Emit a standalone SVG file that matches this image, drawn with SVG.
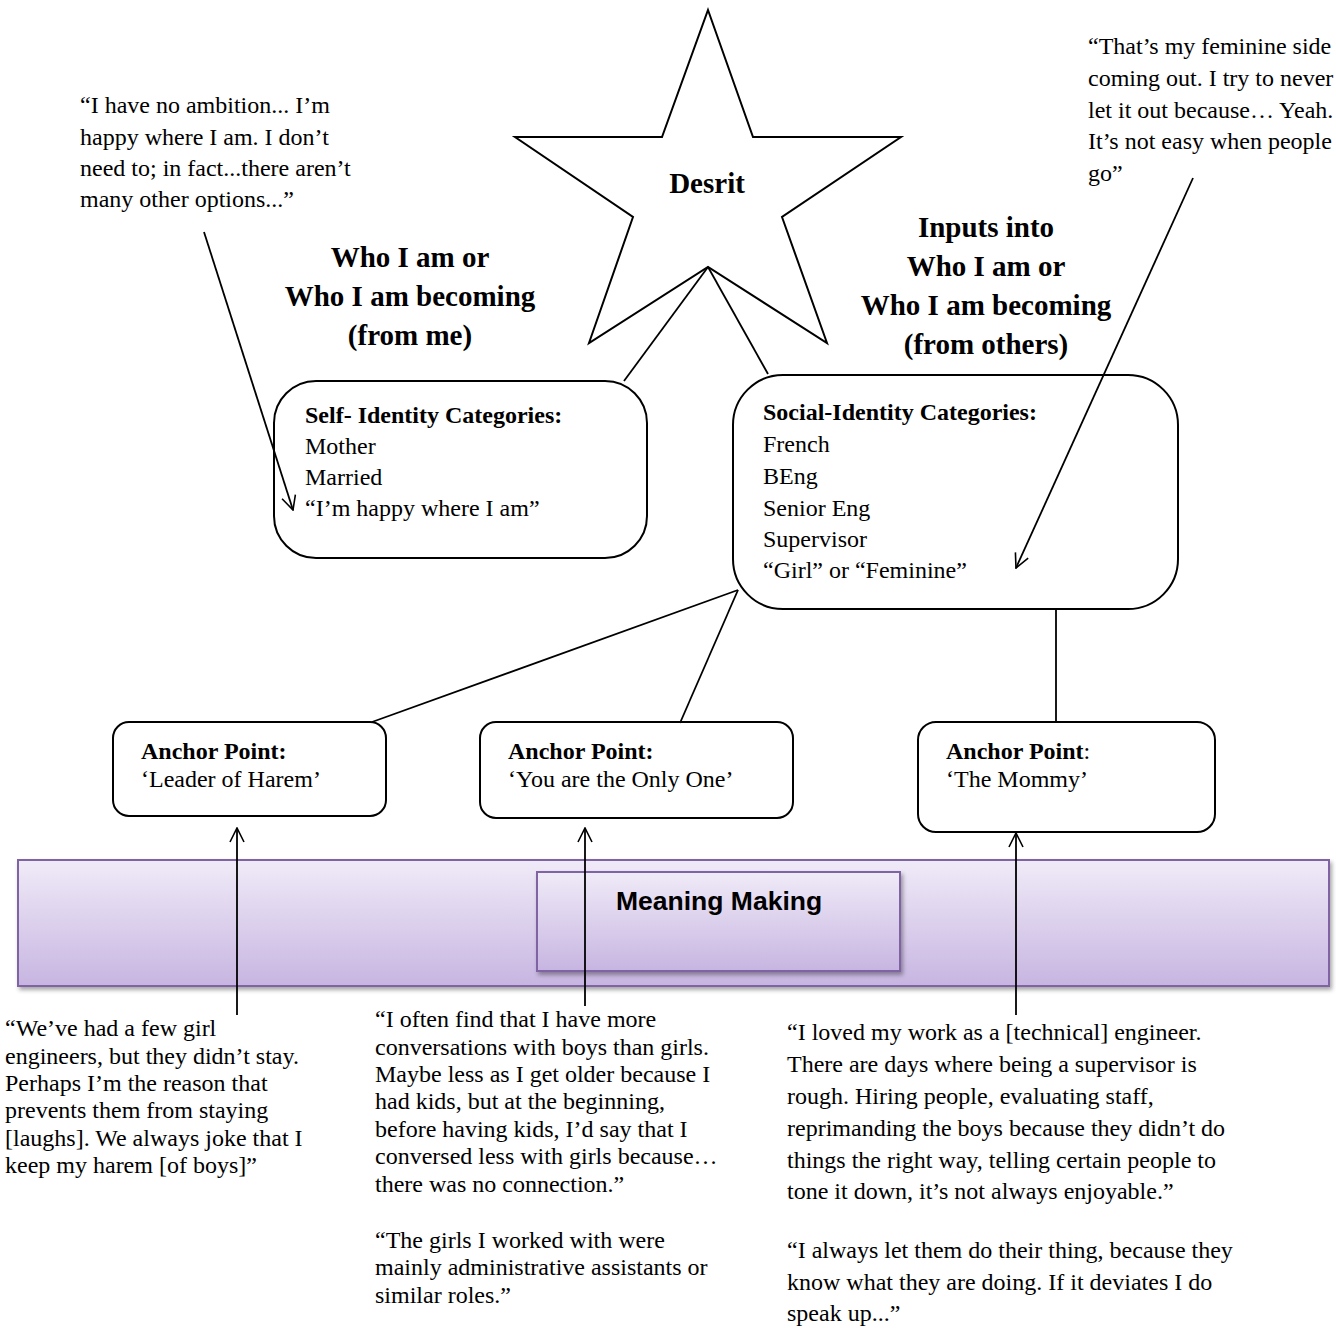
<svg xmlns="http://www.w3.org/2000/svg" width="1336" height="1328" viewBox="0 0 1336 1328">
  <defs>
    <style>
      .t { font-family: "Liberation Serif", "Times New Roman", serif; font-size: 24px; fill: #000; }
      .b { font-weight: bold; }
      .h { font-family: "Liberation Serif", "Times New Roman", serif; font-size: 29px; font-weight: bold; text-anchor: middle; fill: #000; }
      .box { fill: #fff; stroke: #000; stroke-width: 2; }
      .ln { stroke: #000; stroke-width: 1.8; fill: none; }
      .band { stroke: #8064a2; stroke-width: 2; fill: url(#lav); }
      .mm { font-family: "Liberation Sans", Arial, sans-serif; font-size: 26.5px; font-weight: bold; fill: #000; }
    </style>
    <linearGradient id="lav" x1="0" y1="0" x2="0" y2="1">
      <stop offset="0" stop-color="#f0ebf8"/>
      <stop offset="1" stop-color="#c7b5e1"/>
    </linearGradient>
    <filter id="shadow" x="-5%" y="-20%" width="110%" height="150%">
      <feDropShadow dx="2" dy="3" stdDeviation="2" flood-color="#000" flood-opacity="0.35"/>
    </filter>
    <marker id="open" viewBox="0 0 16 16" refX="15" refY="8" markerWidth="16" markerHeight="16" markerUnits="userSpaceOnUse" orient="auto">
      <path d="M1,1 L15,8 L1,15" fill="none" stroke="#000" stroke-width="1.6"/>
    </marker>
  </defs>

  <rect width="1336" height="1328" fill="#fff"/>

  <!-- meaning-making band -->
  <g id="meaning-making">
    <rect class="band" x="18" y="860" width="1311" height="126" filter="url(#shadow)"/>
    <rect class="band" x="537" y="872" width="363" height="99" filter="url(#shadow)"/>
    <text class="mm" x="616" y="910">Meaning Making</text>
  </g>

  <!-- star -->
  <g id="desrit">
    <polygon class="box" points="708,10 753,137 901,137 782,217 827,343 708,267 589,343 633,217 515,137 662,137"/>
    <text class="h" x="707" y="193">Desrit</text>
  </g>

  <g id="heading-self">
    <text class="h" x="410" y="267">Who I am or</text>
    <text class="h" x="410" y="306">Who I am becoming</text>
    <text class="h" x="410" y="345">(from me)</text>
  </g>

  <g id="heading-others">
    <text class="h" x="986" y="237">Inputs into</text>
    <text class="h" x="986" y="276">Who I am or</text>
    <text class="h" x="986" y="315">Who I am becoming</text>
    <text class="h" x="986" y="354">(from others)</text>
  </g>

  <g id="self-identity">
    <rect class="box" x="274" y="381" width="373" height="177" rx="42" ry="42"/>
    <text class="t b" x="305" y="423">Self- Identity Categories:</text>
    <text class="t" x="305" y="454">Mother</text>
    <text class="t" x="305" y="485">Married</text>
    <text class="t" x="305" y="516">“I’m happy where I am”</text>
  </g>

  <g id="social-identity">
    <rect class="box" x="733" y="375" width="445" height="234" rx="50" ry="50"/>
    <text class="t b" x="763" y="420">Social-Identity Categories:</text>
    <text class="t" x="763" y="452">French</text>
    <text class="t" x="763" y="484">BEng</text>
    <text class="t" x="763" y="516">Senior Eng</text>
    <text class="t" x="763" y="547">Supervisor</text>
    <text class="t" x="763" y="578">“Girl” or “Feminine”</text>
  </g>

  <g id="anchor-harem">
    <rect class="box" x="113" y="722" width="273" height="94" rx="16" ry="16"/>
    <text class="t b" x="141" y="759">Anchor Point:</text>
    <text class="t" x="141" y="787">‘Leader of Harem’</text>
  </g>

  <g id="anchor-only-one">
    <rect class="box" x="480" y="722" width="313" height="96" rx="16" ry="16"/>
    <text class="t b" x="508" y="759">Anchor Point:</text>
    <text class="t" x="508" y="787">‘You are the Only One’</text>
  </g>

  <g id="anchor-mommy">
    <rect class="box" x="918" y="722" width="297" height="110" rx="18" ry="18"/>
    <text class="t" x="946" y="759"><tspan class="b">Anchor Point</tspan>:</text>
    <text class="t" x="946" y="787">‘The Mommy’</text>
  </g>

  <!-- quotations -->
  <g id="quote-ambition">
    <text class="t" x="80" y="113">“I have no ambition... I’m</text>
    <text class="t" x="80" y="145">happy where I am. I don’t</text>
    <text class="t" x="80" y="176">need to; in fact...there aren’t</text>
    <text class="t" x="80" y="207">many other options...”</text>
  </g>

  <g id="quote-feminine">
    <text class="t" x="1088" y="54">“That’s my feminine side</text>
    <text class="t" x="1088" y="86">coming out. I try to never</text>
    <text class="t" x="1088" y="118">let it out because… Yeah.</text>
    <text class="t" x="1088" y="149">It’s not easy when people</text>
    <text class="t" x="1088" y="181">go”</text>
  </g>

  <g id="quote-harem">
    <text class="t" x="5" y="1036">“We’ve had a few girl</text>
    <text class="t" x="5" y="1064">engineers, but they didn’t stay.</text>
    <text class="t" x="5" y="1091">Perhaps I’m the reason that</text>
    <text class="t" x="5" y="1118">prevents them from staying</text>
    <text class="t" x="5" y="1146">[laughs]. We always joke that I</text>
    <text class="t" x="5" y="1173">keep my harem [of boys]”</text>
  </g>

  <g id="quote-conversations">
    <text class="t" x="375" y="1027">“I often find that I have more</text>
    <text class="t" x="375" y="1055">conversations with boys than girls.</text>
    <text class="t" x="375" y="1082">Maybe less as I get older because I</text>
    <text class="t" x="375" y="1109">had kids, but at the beginning,</text>
    <text class="t" x="375" y="1137">before having kids, I’d say that I</text>
    <text class="t" x="375" y="1164">conversed less with girls because…</text>
    <text class="t" x="375" y="1192">there was no connection.”</text>
    <text class="t" x="375" y="1248">“The girls I worked with were</text>
    <text class="t" x="375" y="1275">mainly administrative assistants or</text>
    <text class="t" x="375" y="1303">similar roles.”</text>
  </g>

  <g id="quote-supervisor">
    <text class="t" x="787" y="1040">“I loved my work as a [technical] engineer.</text>
    <text class="t" x="787" y="1072">There are days where being a supervisor is</text>
    <text class="t" x="787" y="1104">rough. Hiring people, evaluating staff,</text>
    <text class="t" x="787" y="1136">reprimanding the boys because they didn’t do</text>
    <text class="t" x="787" y="1168">things the right way, telling certain people to</text>
    <text class="t" x="787" y="1199">tone it down, it’s not always enjoyable.”</text>
    <text class="t" x="787" y="1258">“I always let them do their thing, because they</text>
    <text class="t" x="787" y="1290">know what they are doing. If it deviates I do</text>
    <text class="t" x="787" y="1321">speak up...”</text>
  </g>

  <!-- connectors -->
  <g id="connectors">
    <line class="ln" x1="708" y1="267" x2="624" y2="381"/>
    <line class="ln" x1="708" y1="267" x2="768" y2="374"/>
    <line class="ln" x1="738" y1="590" x2="372" y2="722"/>
    <line class="ln" x1="738" y1="590" x2="680" y2="723"/>
    <line class="ln" x1="1056" y1="609" x2="1056" y2="722"/>
    <line class="ln" x1="204" y1="232" x2="293" y2="510" marker-end="url(#open)"/>
    <line class="ln" x1="1193" y1="178" x2="1016" y2="568" marker-end="url(#open)"/>
    <line class="ln" x1="237" y1="1015" x2="237" y2="828" marker-end="url(#open)"/>
    <line class="ln" x1="585" y1="1006" x2="585" y2="828" marker-end="url(#open)"/>
    <line class="ln" x1="1016" y1="1015" x2="1016" y2="833" marker-end="url(#open)"/>
  </g>
</svg>
